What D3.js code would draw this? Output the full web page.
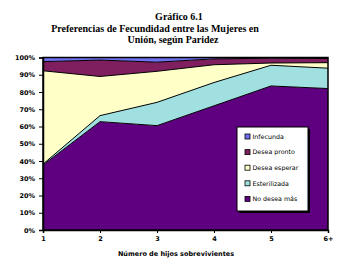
<!DOCTYPE html>
<html>
<head>
<meta charset="utf-8">
<script src="https://cdn.jsdelivr.net/npm/d3@7"></script>
<style>
  body { margin: 0; background: #fff; }
  svg { display: block; }
</style>
</head>
<body>
<svg id="chart" width="352" height="266"></svg>
<script>
// categories (number of surviving children)
const hijos = ["1", "2", "3", "4", "5", "6+"];

// percentages per preference, stacked bottom to top
const noDeseaMas   = [37.7, 62.8, 60.5, 72.0, 83.5, 82.0];
const esterilizada = [0.5, 3.5, 13.5, 13.5, 12.0, 11.8];
const deseaEsperar = [54.1, 22.7, 18.0, 10.3, 1.3, 3.2];
const deseaPronto  = [5.3, 9.5, 5.3, 3.4, 2.8, 2.4];
const infecunda    = [2.4, 1.5, 2.7, 0.8, 0.4, 0.6];

const yTicks = [0, 10, 20, 30, 40, 50, 60, 70, 80, 90, 100];

const series = [
  { key: "No desea más", values: noDeseaMas, color: "#5f0080" },
  { key: "Esterilizada", values: esterilizada, color: "#a0e0e0" },
  { key: "Desea esperar", values: deseaEsperar, color: "#ffffc8" },
  { key: "Desea pronto", values: deseaPronto, color: "#7f1f5f" },
  { key: "Infecunda", values: infecunda, color: "#7070f0" }
];

const svg = d3.select("#chart");
const plotL = 43, plotR = 328, plotT = 57.5, plotB = 230;

// rows for d3.stack
const rows = hijos.map((h, i) => {
  const r = { hijo: h };
  series.forEach(s => { r[s.key] = s.values[i]; });
  return r;
});
const stacked = d3.stack().keys(series.map(s => s.key))(rows);

const x = d3.scalePoint().domain(hijos).range([plotL, plotR]);
const y = d3.scaleLinear().domain([0, 100]).range([plotB, plotT]);

// title
const title = svg.append("g")
  .attr("font-family", "Liberation Serif, Times New Roman, serif")
  .attr("font-weight", "bold")
  .attr("font-size", 10)
  .attr("text-anchor", "middle");
title.append("text").attr("x", 179).attr("y", 20).text("Gráfico 6.1");
title.append("text").attr("x", 155).attr("y", 32).text("Preferencias de Fecundidad entre las Mujeres en");
title.append("text").attr("x", 173).attr("y", 43).text("Unión, según Paridez");

// areas
const area = d3.area()
  .x(d => x(d.data.hijo))
  .y0(d => y(d[0]))
  .y1(d => y(d[1]));
const line = d3.line()
  .x(d => x(d.data.hijo))
  .y(d => y(d[1]));

svg.append("g").selectAll("path.area")
  .data(stacked)
  .join("path")
  .attr("class", "area")
  .attr("fill", (d, i) => series[i].color)
  .attr("d", area);

svg.append("g").selectAll("path.edge")
  .data(stacked.slice(0, -1))
  .join("path")
  .attr("class", "edge")
  .attr("fill", "none")
  .attr("stroke", "#000")
  .attr("stroke-width", 1)
  .attr("d", line);

// plot frame
svg.append("rect")
  .attr("x", plotL).attr("y", plotT)
  .attr("width", plotR - plotL).attr("height", plotB - plotT)
  .attr("fill", "none").attr("stroke", "#000").attr("stroke-width", 1.5);

// axes
const yAxis = svg.append("g")
  .attr("transform", `translate(${plotL},0)`)
  .call(d3.axisLeft(y).tickValues(yTicks).tickFormat(d => d + "%").tickSize(4).tickPadding(4));
const xAxis = svg.append("g")
  .attr("transform", `translate(0,${plotB})`)
  .call(d3.axisBottom(x).tickSize(3).tickPadding(3));
[yAxis, xAxis].forEach(a => {
  a.select(".domain").attr("stroke", "#000").attr("stroke-width", 1.5);
  a.selectAll(".tick line").attr("stroke", "#000");
  a.selectAll("text")
    .attr("font-family", "DejaVu Sans, sans-serif")
    .attr("font-size", 6.5)
    .attr("font-weight", "bold")
    .attr("fill", "#000");
});

svg.append("text")
  .attr("x", 176).attr("y", 256)
  .attr("text-anchor", "middle")
  .attr("font-family", "DejaVu Sans, sans-serif")
  .attr("font-size", 6.5)
  .attr("font-weight", "bold")
  .text("Número de hijos sobrevivientes");

// legend (top to bottom is reverse of stacking)
const legend = svg.append("g");
legend.append("rect")
  .attr("x", 239).attr("y", 129).attr("width", 71).attr("height", 84)
  .attr("fill", "#000");
legend.append("rect")
  .attr("x", 237).attr("y", 127).attr("width", 71).attr("height", 84)
  .attr("fill", "#fff").attr("stroke", "#000").attr("stroke-width", 1);
const items = legend.selectAll("g.item")
  .data(series.slice().reverse())
  .join("g")
  .attr("class", "item")
  .attr("transform", (d, i) => `translate(245,${136.5 + i * 15.6})`);
items.append("rect")
  .attr("x", 0).attr("y", -2.5).attr("width", 5).attr("height", 5)
  .attr("fill", d => d.color).attr("stroke", "#000").attr("stroke-width", 0.8);
items.append("text")
  .attr("x", 7.5).attr("y", 2.3)
  .attr("font-family", "DejaVu Sans, sans-serif")
  .attr("font-size", 6.3)
  .text(d => d.key);
</script>
</body>
</html>
